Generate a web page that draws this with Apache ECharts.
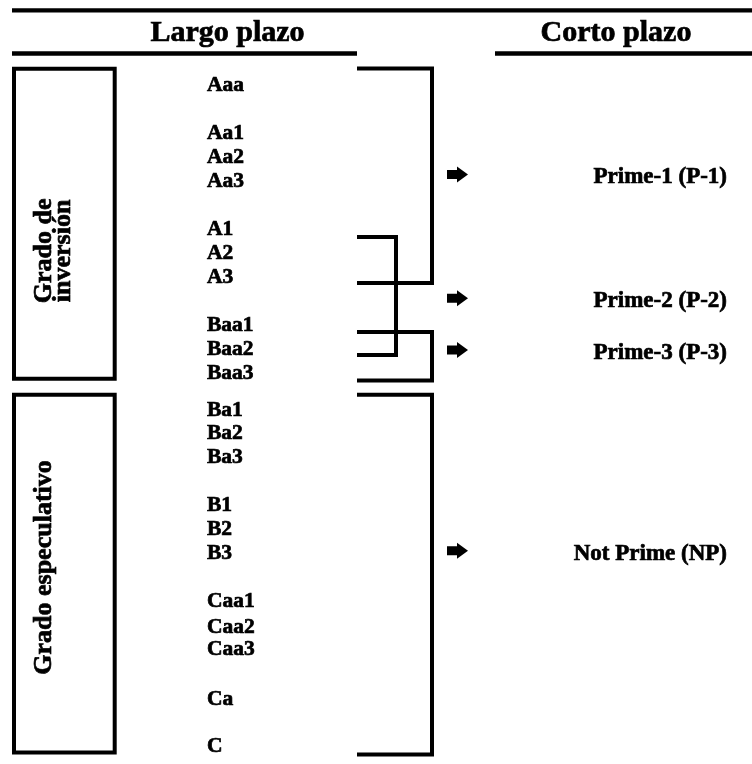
<!DOCTYPE html>
<html>
<head>
<meta charset="utf-8">
<title>Calificaciones Moody's</title>
<script src="https://cdn.jsdelivr.net/npm/echarts/dist/echarts.min.js"></script>
<style>
  html, body { margin: 0; padding: 0; background: #fff; }
  #chart { width: 752px; height: 764px; }
</style>
</head>
<body>
<div id="chart"></div>
<script>
// long term ratings and the row they sit on
var longTerm = ['Aaa', 'Aa1', 'Aa2', 'Aa3', 'A1', 'A2', 'A3', 'Baa1', 'Baa2', 'Baa3',
                'Ba1', 'Ba2', 'Ba3', 'B1', 'B2', 'B3', 'Caa1', 'Caa2', 'Caa3', 'Ca', 'C'];
var longTermRow = [0, 2, 3, 4, 6, 7, 8, 10, 11, 12,
                   13.55, 14.5, 15.5, 17.5, 18.5, 19.5, 21.5, 22.55, 23.5, 25.55, 27.5];

// short term ratings, their row and the span of long term rows they cover
var shortTerm = ['Prime-1 (P-1)', 'Prime-2 (P-2)', 'Prime-3 (P-3)', 'Not Prime (NP)'];
var shortTermRow = [3.85, 9.0, 11.15, 19.5];
var bracketFrom = [-0.69, 6.32, 10.27, 12.88];
var bracketTo = [8.24, 11.23, 12.29, 27.85];

// grade boxes
var grades = ['Grado de\ninversión', 'Grado especulativo'];
var gradeFrom = [-0.68, 12.88];
var gradeTo = [12.22, 27.77];
var gradeRow = [6.9, 20.07];

var FONT = 'Liberation Serif';

// layout (pixels along x)
var RATING_X = 207;
var BRACKET_LEFT = 357;
var bracketX = [432, 396, 432, 432];
var ARROW_X = 447;
var SHORT_RIGHT = 727;
var BOX_LEFT = 14, BOX_RIGHT = 114.7;
var gradeTextX = [54, 44];

var chart = echarts.init(document.getElementById('chart'));

// heavy bold serif text, slightly stroked to match the scan
function txt(text, size, align) {
  return {
    text: text, fill: '#000', stroke: '#000', lineWidth: 0.7,
    fontFamily: FONT, fontWeight: 'bold', fontSize: size,
    align: align, verticalAlign: 'middle'
  };
}

function ratingItem(params, api) {
  var p = api.coord([RATING_X, api.value(1)]);
  return { type: 'text', x: p[0], y: p[1], style: txt(longTerm[params.dataIndex], 21.5, 'left') };
}

function bracketItem(params, api) {
  var i = params.dataIndex;
  var xv = bracketX[i];
  var pts = [
    api.coord([BRACKET_LEFT, api.value(1)]),
    api.coord([xv, api.value(1)]),
    api.coord([xv, api.value(2)]),
    api.coord([BRACKET_LEFT, api.value(2)])
  ];
  return {
    type: 'polyline',
    shape: { points: pts },
    style: { stroke: '#000', lineWidth: 4, fill: null, lineJoin: 'miter', lineCap: 'butt' }
  };
}

function shortItem(params, api) {
  var i = params.dataIndex;
  var p = api.coord([SHORT_RIGHT, api.value(1)]);
  var a = api.coord([ARROW_X, api.value(1)]);
  var ay = a[1] - 3;
  var arrow = [[0, -4.5], [10, -4.5], [10, -8], [21, 0], [10, 8], [10, 4.5], [0, 4.5]].map(function (d) {
    return [a[0] + d[0], ay + d[1]];
  });
  return {
    type: 'group',
    children: [
      { type: 'polygon', shape: { points: arrow }, style: { fill: '#000' } },
      { type: 'text', x: p[0], y: p[1], style: txt(shortTerm[i], 23, 'right') }
    ]
  };
}

function gradeItem(params, api) {
  var i = params.dataIndex;
  var tl = api.coord([BOX_LEFT, api.value(1)]);
  var br = api.coord([BOX_RIGHT, api.value(2)]);
  var c = api.coord([gradeTextX[i], api.value(3)]);
  var st = txt(grades[i], 26, 'center');
  st.lineHeight = 19;
  return {
    type: 'group',
    children: [
      {
        type: 'rect',
        shape: { x: tl[0], y: tl[1], width: br[0] - tl[0], height: br[1] - tl[1] },
        style: { stroke: '#000', lineWidth: 4, fill: null }
      },
      { type: 'text', x: c[0], y: c[1], rotation: Math.PI / 2, style: st }
    ]
  };
}

var option = {
  backgroundColor: '#fff',
  animation: false,
  grid: { left: 0, right: 0, top: 0, bottom: 0 },
  xAxis: { type: 'value', min: 0, max: 752, show: false },
  yAxis: { type: 'value', min: -85 / 24.04, max: (764 - 85) / 24.04, inverse: true, show: false },
  graphic: [
    { type: 'line', shape: { x1: 12, y1: 10.3, x2: 752, y2: 10.3 }, style: { stroke: '#000', lineWidth: 4.3 } },
    { type: 'line', shape: { x1: 12, y1: 53.5, x2: 357, y2: 53.5 }, style: { stroke: '#000', lineWidth: 4.5 } },
    { type: 'line', shape: { x1: 495, y1: 53.5, x2: 752, y2: 53.5 }, style: { stroke: '#000', lineWidth: 4.5 } },
    { type: 'text', x: 227.5, y: 33, style: txt('Largo plazo', 30, 'center') },
    { type: 'text', x: 616, y: 33, style: txt('Corto plazo', 30, 'center') }
  ],
  series: [
    {
      type: 'custom', name: 'Grado',
      renderItem: gradeItem,
      data: grades.map(function (g, i) { return [i, gradeFrom[i], gradeTo[i], gradeRow[i]]; })
    },
    {
      type: 'custom', name: 'Largo plazo',
      renderItem: ratingItem,
      data: longTerm.map(function (r, i) { return [i, longTermRow[i]]; })
    },
    {
      type: 'custom', name: 'Tramos',
      renderItem: bracketItem,
      data: shortTerm.map(function (s, i) { return [i, bracketFrom[i], bracketTo[i]]; })
    },
    {
      type: 'custom', name: 'Corto plazo',
      renderItem: shortItem,
      data: shortTerm.map(function (s, i) { return [i, shortTermRow[i]]; })
    }
  ]
};

chart.setOption(option);
</script>
</body>
</html>
